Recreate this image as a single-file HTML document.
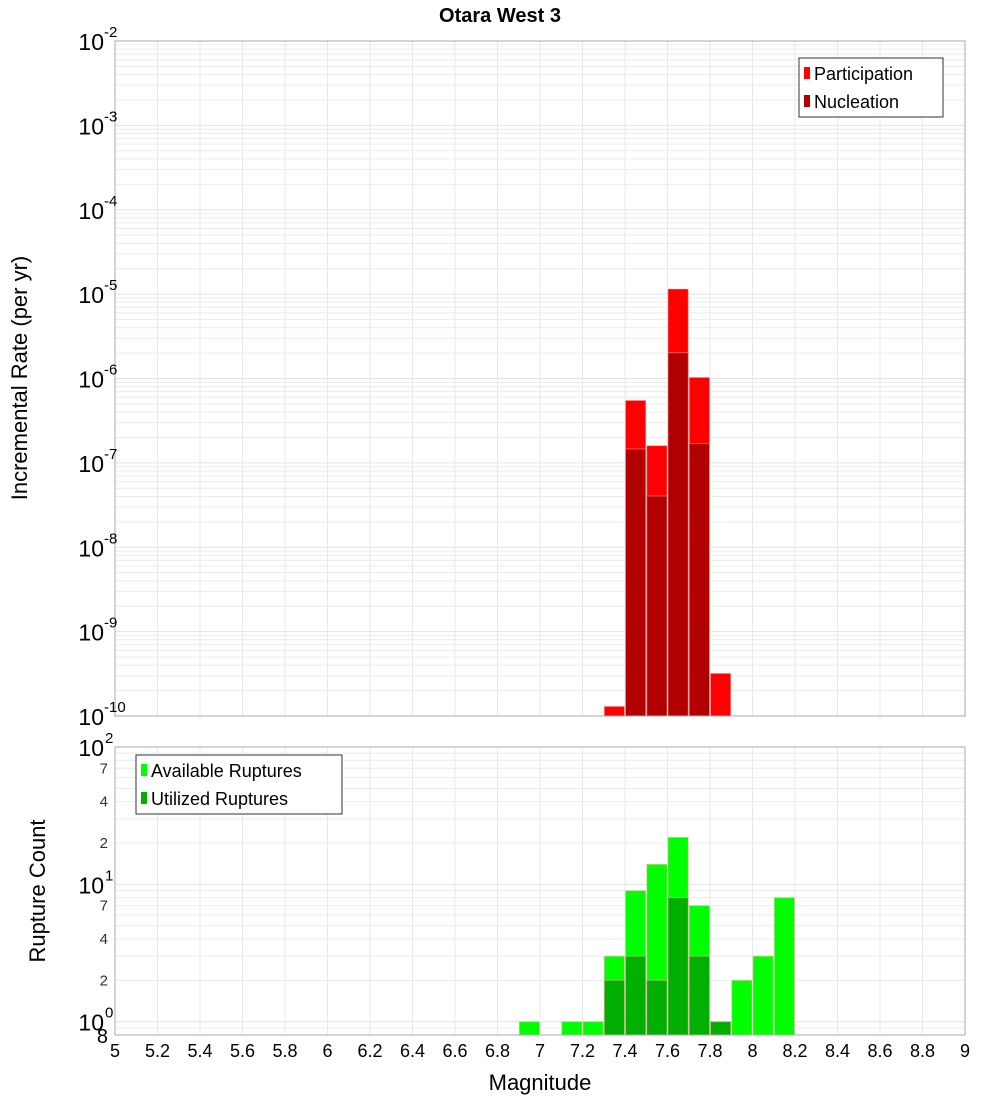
<!DOCTYPE html>
<html><head><meta charset="utf-8"><style>
body{margin:0;background:#fff}
svg text{font-family:"Liberation Sans","DejaVu Sans",sans-serif}
</style></head><body>
<svg id="c" width="1000" height="1100" xmlns="http://www.w3.org/2000/svg"></svg>
<script>
const bins=[6.95,7.05,7.15,7.25,7.35,7.45,7.55,7.65,7.75,7.85,7.95,8.05,8.15];
const partRate=[0,0,0,0,1.3e-10,5.5e-7,1.6e-7,1.15e-5,1.03e-6,3.2e-10,0,0,0];
const nuclRate=[0,0,0,0,0,1.46e-7,4.05e-8,2.02e-6,1.69e-7,0,0,0,0];
const availCount=[1,0,1,1,3,9,14,22,7,1,2,3,8];
const utilCount=[0,0,0,0,2,3,2,8,3,1,0,0,0];
const xTicks=[5,5.2,5.4,5.6,5.8,6,6.2,6.4,6.6,6.8,7,7.2,7.4,7.6,7.8,8,8.2,8.4,8.6,8.8,9];
const topExps=[-2,-3,-4,-5,-6,-7,-8,-9,-10];
const botMinorLabels=[2,4,7,20,40,70];

const S=document.getElementById('c'),NS='http://www.w3.org/2000/svg';
function el(t,a,p){const e=document.createElementNS(NS,t);for(const k in a)e.setAttribute(k,a[k]);(p||S).appendChild(e);return e;}
const L=115,R=965;
const X=v=>L+(v-5)/(9-5)*(R-L);
const T1=41,B1=716,T2=747,B2=1035;
const Y1=v=>T1+(-2-Math.log10(v))/8*(B1-T1);
const lo2=Math.log10(0.8),hi2=2;
const Y2=v=>T2+(hi2-Math.log10(v))/(hi2-lo2)*(B2-T2);

// title
let t=el('text',{x:500,y:22,'text-anchor':'middle','font-size':20,'font-weight':'bold'});t.textContent='Otara West 3';


function frame(top,bot,Y,decs,name){
  const g=el('g',{});
  decs.forEach(d=>{for(let m=1;m<10;m++){const v=m*Math.pow(10,d);const y=Y(v);if(y<top-0.5||y>bot+0.5)continue;
    el('line',{x1:L,x2:R,y1:y,y2:y,stroke:m==1?'#e2e2e2':'#ececec','stroke-width':1},g);}});
  xTicks.forEach(v=>el('line',{x1:X(v),x2:X(v),y1:top,y2:bot,stroke:'#e8e8e8'},g));
}
frame(T1,B1,Y1,[-10,-9,-8,-7,-6,-5,-4,-3,-2],'top');
frame(T2,B2,Y2,[-1,0,1,2],'bottom');

const bw=X(5.1)-X(5);
function bar(c,v,Y,bot,col,name){ if(!v)return; const y=Y(v);
  const r=el('rect',{x:X(c-0.05)+0.5,y:y,width:bw-1,height:bot-y,fill:col,stroke:'#ffb0b0','stroke-opacity':0.5,'stroke-width':1});
  }
bins.forEach((c,i)=>{bar(c,partRate[i],Y1,B1,'#ff0000','participation-bar');bar(c,nuclRate[i],Y1,B1,'#b20000','nucleation-bar');
  bar(c,availCount[i],Y2,B2,'#00ff00','available-bar');bar(c,utilCount[i],Y2,B2,'#00b000','utilized-bar');});

// plot borders
[[T1,B1,'top-plot-border'],[T2,B2,'bottom-plot-border']].forEach(a=>{const r=el('rect',{x:L,y:a[0],width:R-L,height:a[1]-a[0],fill:'none',stroke:'#aaa'});
 });

// top y labels
topExps.forEach(e=>{const y=Y1(Math.pow(10,e));
  const tx=el('text',{x:104,y:y+9,'text-anchor':'end','font-size':23});tx.textContent='10';
  
  const s=el('text',{x:104,y:y-4,'font-size':15});s.textContent=String(e);
  });
// bottom y labels
[[2,'2'],[1,'1'],[0,'0']].forEach(a=>{const y=Y2(Math.pow(10,a[0]));
  const tx=el('text',{x:104,y:y+9,'text-anchor':'end','font-size':23});tx.textContent='10';
  
  const s=el('text',{x:105,y:y-4,'font-size':15});s.textContent=a[1];
  });
botMinorLabels.forEach(v=>{const tx=el('text',{x:108,y:Y2(v)+5,'text-anchor':'end','font-size':15,fill:'#333'});tx.textContent=String(String(v)[0]);
  });
t=el('text',{x:108,y:Y2(0.8)+8,'text-anchor':'end','font-size':20});t.textContent='8';


// x labels
xTicks.forEach(v=>{const tx=el('text',{x:X(v),y:1057,'text-anchor':'middle','font-size':18});tx.textContent=String(v);
  });
t=el('text',{x:540,y:1090,'text-anchor':'middle','font-size':22});t.textContent='Magnitude';

t=el('text',{x:0,y:0,'text-anchor':'middle','font-size':22,transform:'translate(27,378) rotate(-90)'});t.textContent='Incremental Rate (per yr)';

t=el('text',{x:0,y:0,'text-anchor':'middle','font-size':22,transform:'translate(45,891) rotate(-90)'});t.textContent='Rupture Count';


function legend(x,y,w,items,name){const g=el('g',{});
  el('rect',{x:x,y:y,width:w,height:59,fill:'#fff',stroke:'#333'},g);
  items.forEach((it,i)=>{const yy=y+15+i*28;
    el('rect',{x:x+5,y:yy-6,width:6,height:12,fill:it[1]},g);
    const tx=el('text',{x:x+15,y:yy+7,'font-size':18},g);tx.textContent=it[0];
    });}
legend(799,58,144,[['Participation','#ff0000'],['Nucleation','#b20000']],'top-legend');
legend(136,755,206,[['Available Ruptures','#00ff00'],['Utilized Ruptures','#00b000']],'bottom-legend');
</script>
</body></html>
